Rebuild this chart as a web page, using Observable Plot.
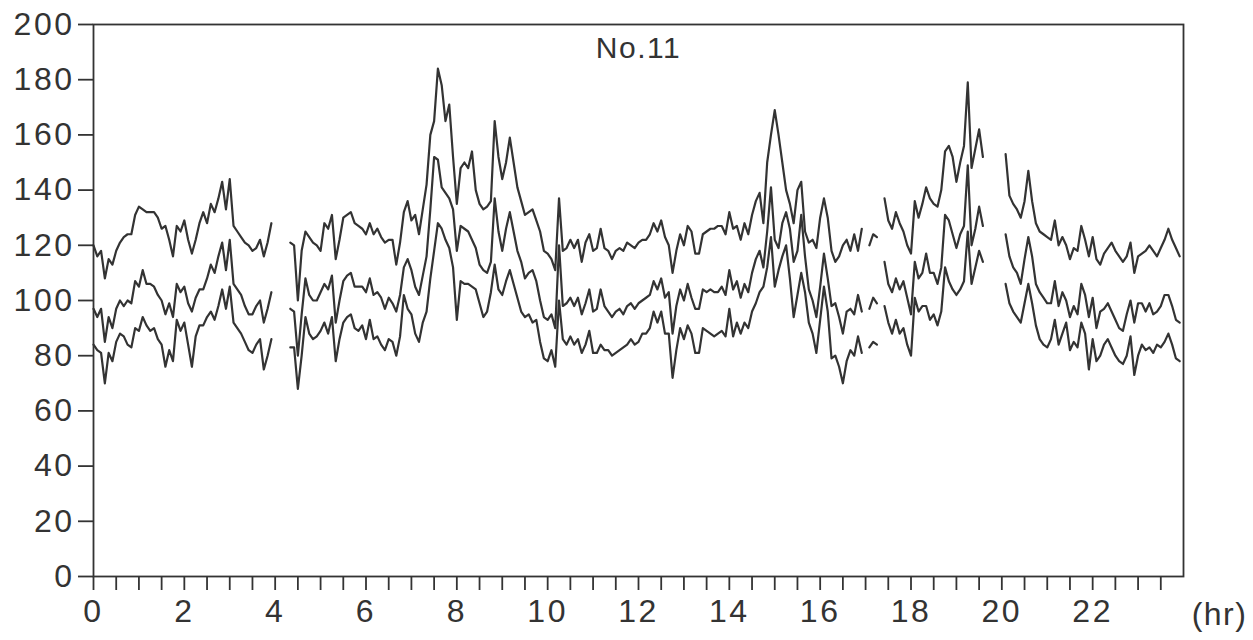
<!DOCTYPE html>
<html>
<head>
<meta charset="utf-8">
<script src="https://cdn.jsdelivr.net/npm/d3@7"></script>
<script src="https://cdn.jsdelivr.net/npm/@observablehq/plot@0.6"></script>
<style>
  html, body { margin: 0; padding: 0; background: #fff; }
  svg { font-family: "Liberation Sans", Arial, Helvetica, sans-serif; }
  svg [aria-label="y-axis tick label"] text,
  svg [aria-label="x-axis tick label"] text { letter-spacing: 2.5px; }
  svg [aria-label="text"] text { letter-spacing: 1.5px; }
</style>
</head>
<body>
<div id="chart"></div>
<script>
// ---- data ----
const title = "No.11";
const unitLabel = "(hr)";
const stepMinutes = 5;               // one reading every 5 minutes, 288 per day
const yTicks = [0, 20, 40, 60, 80, 100, 120, 140, 160, 180, 200];
const xTicks = [0,0.5,1,1.5,2,2.5,3,3.5,4,4.5,5,5.5,6,6.5,7,7.5,8,8.5,9,9.5,10,10.5,11,11.5,
                12,12.5,13,13.5,14,14.5,15,15.5,16,16.5,17,17.5,18,18.5,19,19.5,20,20.5,21,21.5,22,22.5,23,23.5];
const xTickLabels = [0, 2, 4, 6, 8, 10, 12, 14, 16, 18, 20, 22];

const upper = [
  120,116,118,108,115,113,118,121,123,124, 124,131,134,133,132,132,132,130,126,127,
  122,116,127,125,129,122,117,122,128,132, 128,135,132,137,143,133,144,127,125,123,
  121,120,118,119,122,116,121,128,
  null,null,null,null,
  121,120,100,118,125,123,121,120,118,128, 126,131,115,122,130,131,132,128,127,126,
  124,128,124,126,123,121,122,122,113,121, 132,136,129,131,124,133,142,160,165,184,
  178,165,171,152,135,148,150,148,154,140,
  135,133,134,136,165,152,144,150,159,150, 141,136,131,132,133,129,125,118,117,115,
  111,137,118,119,122,119,122,114,121,124, 118,119,126,119,118,115,118,119,118,121,
  120,119,121,122,122,124,128,125,129,123,
  120,110,118,124,120,127,125,117,117,124, 125,126,126,127,127,124,132,126,127,122,
  128,124,131,136,139,128,150,160,169,160, 150,140,135,128,140,143,125,121,122,119,
  130,137,130,118,114,116,120,122,118,124, 118,126,
  null, 120,124,123, null,
  137,129,126,132,128,125,120,117,136,130, 135,141,137,135,134,140,154,156,152,143,
  150,156,179,148,155,162,152,
  null,null,null,null,null,
  153,138,135,133,130,136,147,136,128,125, 124,123,122,129,120,123,120,115,119,118,
  127,122,116,123,115,113,117,119,121,118, 116,114,116,121,110,116,117,118,120,118,
  116,119,122,126,122,119,116
];

const middle = [
  97,94,97,85,94,90,97,100,98,100, 99,107,105,111,106,106,105,102,100,95,
  99,94,106,103,105,99,96,101,104,104, 108,113,110,116,121,111,122,106,104,102,
  98,95,95,98,100,92,97,103,
  null,null,null,null,
  97,96,80,95,108,102,100,100,103,106, 104,109,92,100,107,109,110,105,105,105,
  103,108,102,103,101,97,101,99,96,102, 112,115,111,105,102,109,116,133,152,151,
  141,139,137,133,118,127,126,125,122,119,
  113,111,110,114,137,125,118,126,132,125, 118,114,108,110,111,107,100,94,93,95,
  90,120,98,99,101,98,101,95,99,104, 96,97,104,98,96,94,96,97,95,98,
  99,97,99,100,101,102,107,104,108,101,
  103,88,98,104,100,106,101,97,97,104, 103,104,103,103,105,102,111,104,107,101,
  106,103,110,115,118,112,125,141,122,119, 128,132,126,114,118,131,116,104,100,94,
  105,117,108,98,99,94,88,96,97,95, 102,96,
  null, 97,101,99, null,
  114,106,103,108,104,107,101,95,114,108, 110,117,110,110,106,112,131,129,124,119,
  124,127,149,120,126,134,127,
  null,null,null,null,null,
  124,116,112,110,106,115,123,116,106,103, 101,99,99,107,98,103,100,94,98,95,
  106,102,94,101,90,96,97,99,96,93, 90,89,95,100,92,99,99,96,99,95,
  96,98,102,102,98,93,92
];

const lower = [
  84,82,81,70,81,78,85,88,87,84, 83,90,89,94,91,89,90,86,84,76,
  82,78,93,89,92,84,76,87,91,91, 94,96,93,98,104,97,105,92,90,88,
  85,82,81,84,86,75,80,86,
  null,null,null,null,
  83,83,68,80,94,88,86,87,89,92, 88,94,78,86,92,94,95,90,89,91,
  86,93,86,87,84,82,86,85,80,87, 102,97,95,88,85,92,96,108,118,128,
  126,122,119,112,93,107,106,106,105,104,
  99,94,96,103,113,104,102,107,111,106, 101,96,94,95,92,93,85,79,78,82,
  76,100,86,84,87,84,86,81,84,89, 81,81,84,82,82,80,81,82,83,84,
  86,84,85,88,88,90,96,92,96,88,
  88,72,82,90,86,91,88,81,81,90, 89,88,87,88,89,87,97,87,92,88,
  92,90,96,99,103,105,112,123,105,111, 116,120,108,94,102,110,103,92,88,81,
  93,105,96,79,80,76,70,78,82,80, 87,81,
  null, 83,85,84, null,
  98,92,88,93,88,90,84,80,101,96, 98,98,93,95,91,96,112,107,104,102,
  104,107,125,106,112,118,114,
  null,null,null,null,null,
  106,99,96,94,92,99,106,99,91,86, 84,83,86,93,84,88,92,82,85,83,
  92,88,75,86,78,80,84,86,83,80, 78,77,80,87,73,80,84,82,83,81,
  84,83,85,88,84,79,78
];

// ---- table for Plot ----
const seriesList = [["upper", upper], ["middle", middle], ["lower", lower]];
const rows = [];
for (const [name, vals] of seriesList) {
  vals.forEach((v, i) => rows.push({series: name, hour: i * stepMinutes / 60, value: v == null ? NaN : v}));
}

const ink = "#333333";
const chart = Plot.plot({
  width: 1253,
  height: 640,
  marginLeft: 93,
  marginRight: 70,
  marginTop: 24,
  marginBottom: 64,
  style: {fontFamily: '"Liberation Sans", Arial, Helvetica, sans-serif', fontSize: "32px", color: ink, background: "#fff"},
  x: {domain: [0, 24]},
  y: {domain: [0, 200]},
  marks: [
    Plot.frame({stroke: ink, strokeWidth: 1.8}),
    Plot.axisY({ticks: yTicks, tickSize: 15, tickPadding: 4, tickFormat: d => String(d), label: null, strokeWidth: 1.8, fontSize: 32}),
    Plot.axisX({ticks: xTicks, tickSize: 14, tickPadding: 9, label: null, strokeWidth: 1.8, fontSize: 32,
                tickFormat: d => xTickLabels.includes(d) ? String(d) : ""}),
    Plot.line(rows, {x: "hour", y: "value", z: "series", stroke: ink, strokeWidth: 2.2}),
    Plot.text([title], {frameAnchor: "top", dy: 24, lineAnchor: "middle", fontSize: 30, fill: ink}),
    Plot.text([unitLabel], {frameAnchor: "bottom-right", dx: 36, dy: 38, lineAnchor: "middle", textAnchor: "middle", fontSize: 32, fill: ink})
  ]
});
document.getElementById("chart").appendChild(chart);
</script>
</body>
</html>
